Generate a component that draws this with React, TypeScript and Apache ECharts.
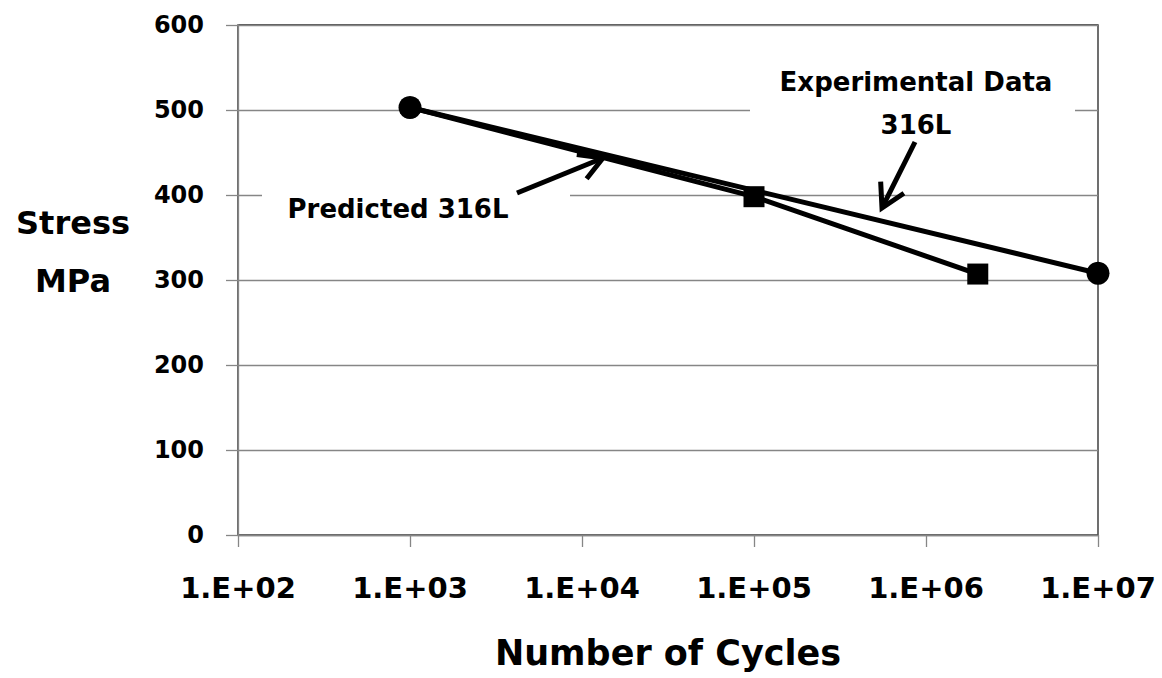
import React, { useEffect, useRef } from "react";
import * as echarts from "echarts";

const cyclesExperimental = [1e3, 1e7];
const stressExperimental = [503, 308];
const cyclesPredicted = [1e3, 1e5, 2e6];
const stressPredicted = [503, 398, 307];
const yTicks = { min: 0, max: 600, interval: 100 };
const xRange = { min: 1e2, max: 1e7 };

const FONT = "DejaVu Sans";

function arrow(x1: number, y1: number, x2: number, y2: number) {
  const dx = x2 - x1, dy = y2 - y1;
  const len = Math.hypot(dx, dy);
  const ux = dx / len, uy = dy / len;
  const hl = 23, hw = 13;
  const bx = x2 - ux * hl, by = y2 - uy * hl;
  const px = -uy, py = ux;
  return [
    { type: "line", z: 100, shape: { x1, y1, x2: x2 - ux * 2, y2: y2 - uy * 2 }, style: { stroke: "#000", lineWidth: 5 } },
    {
      type: "polyline", z: 100,
      shape: { points: [[bx + px * hw, by + py * hw], [x2, y2], [bx - px * hw, by - py * hw]] },
      style: { stroke: "#000", lineWidth: 5, fill: null, lineJoin: "miter", lineCap: "butt" },
    },
  ];
}

export default function App() {
  const ref = useRef<HTMLDivElement>(null);
  useEffect(() => {
    const chart = echarts.init(ref.current!, undefined, { renderer: "svg" });
    const grey = "#868686";
    chart.setOption({
      animation: false,
      backgroundColor: "#fff",
      grid: { left: 238, top: 25, right: 64, bottom: 143, show: true, borderColor: "#222", borderWidth: 1.3 },
      xAxis: {
        type: "log",
        logBase: 10,
        min: xRange.min,
        max: xRange.max,
        name: "Number of Cycles",
        nameLocation: "middle",
        nameGap: 100,
        nameTextStyle: { fontFamily: FONT, fontWeight: "bold", fontSize: 35, color: "#000" },
        axisLine: { lineStyle: { color: grey, width: 1.3 } },
        axisTick: { show: true, length: 12, lineStyle: { color: grey, width: 1.3 } },
        minorTick: { show: false },
        splitLine: { show: false },
        axisLabel: {
          margin: 38,
          fontFamily: FONT, fontWeight: "bold", fontSize: 29, color: "#000",
          formatter: (v: number) => "1.E+" + String(Math.round(Math.log10(v))).padStart(2, "0"),
        },
      },
      yAxis: {
        type: "value",
        min: yTicks.min,
        max: yTicks.max,
        interval: yTicks.interval,
        axisLine: { show: true, lineStyle: { color: grey, width: 1.3 } },
        axisTick: { show: true, length: 12, lineStyle: { color: grey, width: 1.3 } },
        splitLine: { show: true, lineStyle: { color: grey, width: 1.3 } },
        axisLabel: { margin: 34, fontFamily: FONT, fontWeight: "bold", fontSize: 24, color: "#000" },
      },
      series: [
        {
          name: "Predicted 316L",
          type: "line",
          z: 3,
          data: cyclesPredicted.map((c, i) => (i === 0 ? { value: [c, stressPredicted[i]], symbol: "none" } : [c, stressPredicted[i]])),
          symbol: "rect",
          symbolSize: 21,
          lineStyle: { color: "#000", width: 5 },
          itemStyle: { color: "#000" },
        },
        {
          name: "Experimental Data 316L",
          type: "line",
          z: 4,
          data: cyclesExperimental.map((c, i) => [c, stressExperimental[i]]),
          symbol: "circle",
          symbolSize: 23,
          lineStyle: { color: "#000", width: 5 },
          itemStyle: { color: "#000" },
        },
      ],
      graphic: [
        { type: "rect", z: 1, shape: { x: 750, y: 62, width: 325, height: 90 }, style: { fill: "#fff" } },
        { type: "rect", z: 1, shape: { x: 262, y: 178, width: 308, height: 52 }, style: { fill: "#fff" } },
        {
          type: "text", z: 100, x: 916, y: 82,
          style: { text: "Experimental Data", fontFamily: FONT, fontWeight: "bold", fontSize: 26, fill: "#000", align: "center", verticalAlign: "middle" },
        },
        {
          type: "text", z: 100, x: 916, y: 125,
          style: { text: "316L", fontFamily: FONT, fontWeight: "bold", fontSize: 26, fill: "#000", align: "center", verticalAlign: "middle" },
        },
        {
          type: "text", z: 100, x: 398, y: 209,
          style: { text: "Predicted 316L", fontFamily: FONT, fontWeight: "bold", fontSize: 26, fill: "#000", align: "center", verticalAlign: "middle" },
        },
        {
          type: "text", z: 100, x: 73, y: 223,
          style: { text: "Stress", fontFamily: FONT, fontWeight: "bold", fontSize: 32, fill: "#000", align: "center", verticalAlign: "middle" },
        },
        {
          type: "text", z: 100, x: 73, y: 281,
          style: { text: "MPa", fontFamily: FONT, fontWeight: "bold", fontSize: 32, fill: "#000", align: "center", verticalAlign: "middle" },
        },
        ...arrow(517, 193, 603, 158),
        ...arrow(915, 142, 882, 208),
      ],
    });
    return () => chart.dispose();
  }, []);
  return <div ref={ref} style={{ position: "fixed", left: 0, top: 0, width: 1162, height: 678 }} />;
}
